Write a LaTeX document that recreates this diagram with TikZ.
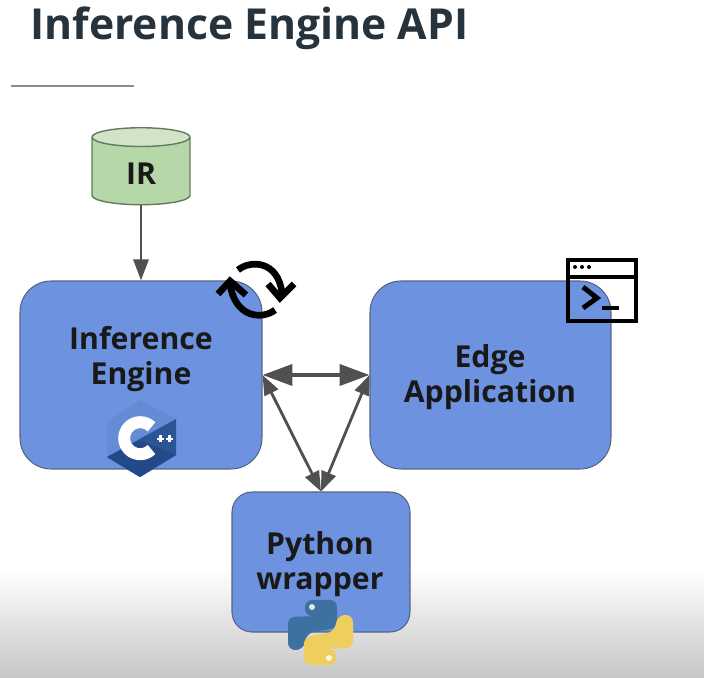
\documentclass[tikz,border=0pt]{standalone}
\usepackage{fontspec}
\setmainfont{Open Sans}
\usetikzlibrary{arrows.meta,shapes.geometric}
\definecolor{boxblue}{RGB}{109,146,223}
\definecolor{boxedge}{RGB}{84,100,130}
\definecolor{irgreen}{RGB}{182,215,168}
\definecolor{irtop}{RGB}{209,228,200}
\definecolor{iredge}{RGB}{100,122,96}
\definecolor{titleink}{RGB}{38,50,60}
\definecolor{linkgray}{RGB}{80,80,80}
\definecolor{cpplight}{RGB}{100,140,212}
\definecolor{cppmid}{RGB}{42,86,150}
\definecolor{cppdark}{RGB}{34,74,136}
\definecolor{pyblue}{RGB}{62,112,160}
\definecolor{pyyellow}{RGB}{238,206,92}
\tikzset{
  apibox/.style={draw=boxedge, line width=0.6pt, fill=boxblue, rounded corners=0.62cm},
  apitext/.style={font=\bfseries\fontsize{17.2}{20.3}\selectfont, align=center, text=black!90},
  linkline/.style={draw=linkgray, line width=2.3pt, {Triangle[length=0.6cm,width=0.42cm]}-{Triangle[length=0.6cm,width=0.42cm]}},
  diagline/.style={draw=linkgray, line width=1.6pt, {Triangle[length=0.4cm,width=0.3cm]}-{Triangle[length=0.4cm,width=0.3cm]}},
  inline/.style={draw=linkgray, line width=1.6pt, -{Triangle[length=0.42cm,width=0.3cm]}},
  iconline/.style={draw=black, line width=2.4pt},
  syncline/.style={draw=black, line width=3.8pt},
}
\begin{document}
\begin{tikzpicture}[x=0.02cm, y=-0.02cm]
\useasboundingbox (0,0) rectangle (704,678);
% fade at the bottom edge
\shade[top color=white, bottom color=black!22] (0,568) rectangle (704,678);
% title
\node[font=\bfseries\fontsize{24.3}{30}\selectfont, text=titleink, anchor=west, inner sep=0pt] (title) at (30,28) {Inference Engine API};
\draw[black!45, line width=0.7pt] (11,86) -- (134,86);
% boxes
\node[apibox, minimum width=4.84cm, minimum height=3.76cm] (engine) at (141,375) {};
\node[apibox, minimum width=4.82cm, minimum height=3.76cm] (edge) at (490.5,375) {};
\node[apibox, minimum width=3.56cm, minimum height=2.8cm, rounded corners=0.4cm] (python) at (321,562) {};
\node[apitext] (enginetext) at (141,359) {Inference\\Engine};
\node[apitext] (edgetext) at (490,377) {Edge\\Application};
\node[apitext] (pythontext) at (320,564) {Python\\wrapper};
% IR store
\node[cylinder, shape border rotate=90, aspect=0.45, draw=iredge, line width=0.8pt, cylinder uses custom fill, cylinder body fill=irgreen, cylinder end fill=irtop, minimum width=1.96cm, minimum height=1.54cm, font=\bfseries\fontsize{17.2}{20}\selectfont, text=black!90] (ir) at (141,173.5) {IR};
% connectors
\draw[inline] (ir.south) -- (engine.north);
\draw[linkline] (engine.east) -- (edge.west);
\draw[diagline] (engine.east) -- (python.north);
\draw[diagline] (edge.west) -- (python.north);
% sync arrows
\draw[syncline] (238,270) .. controls (250,260) and (278,260) .. (282,293);
\draw[syncline] (268,284) -- (280,298) -- (294,284);
\draw[syncline] (275,310) .. controls (262,320) and (235,318) .. (230,284);
\draw[syncline] (218,294) -- (230,281) -- (246,295);
% terminal icon
\draw[iconline] (568,260) rectangle (636,321);
\draw[iconline] (568,277) -- (636,277);
\fill (575,267) circle (2) (582,267) circle (2) (589,267) circle (2);
\draw[black, line width=2.8pt] (583,287) -- (597,298) -- (583,308);
\draw[black, line width=2.8pt] (602,308) -- (619,308);
% C++ logo
\fill[cpplight] (140,400) -- (176,419) -- (176,455) -- (140,477) -- (107,457) -- (107,422) -- cycle;
\fill[cppmid] (176,419) -- (176,455) -- (140,477) -- (107,457) -- cycle;
\fill[cppdark] (176,455) -- (140,477) -- (107,457) -- (140,440) -- cycle;
\draw[white, line width=6.8pt] (151.5,449.5) arc (45:315:16);
\draw[white, line width=1.4pt] (157,439) -- (164,439) (160.5,435.5) -- (160.5,442.5) (166,439) -- (173,439) (169.5,435.5) -- (169.5,442.5);
% Python logo
\fill[pyblue, rounded corners=4] (305,616) -- (305,600) -- (337,600) -- (337,628) -- (307,633) -- (303,650) -- (288,650) -- (288,617) -- (320,616) -- cycle;
\fill[pyyellow, rounded corners=4] (336,649) -- (336,665) -- (304,665) -- (304,637) -- (334,632) -- (338,615) -- (353,615) -- (353,648) -- (321,649) -- cycle;
\fill[white!85!pyblue] (312,607) circle (3);
\fill[white!85!pyyellow] (329,658) circle (3);
\end{tikzpicture}
\end{document}
